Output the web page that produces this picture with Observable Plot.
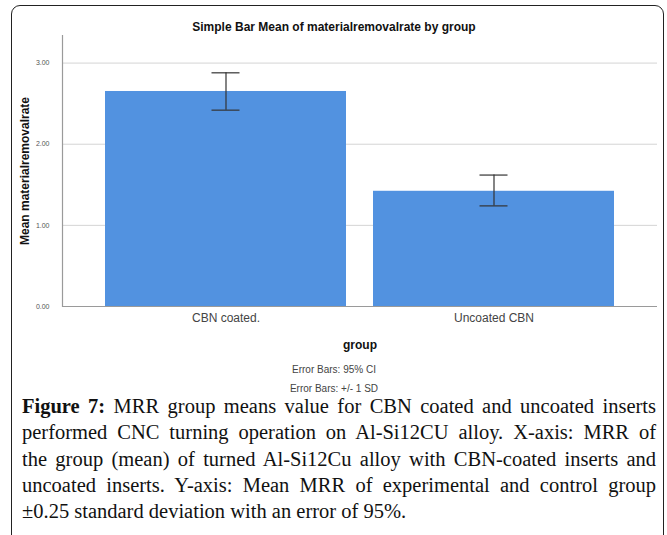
<!DOCTYPE html>
<html>
<head>
<meta charset="utf-8">
<script src="https://cdn.jsdelivr.net/npm/d3@7"></script>
<script src="https://cdn.jsdelivr.net/npm/@observablehq/plot@0.6"></script>
<style>
  html, body { margin: 0; padding: 0; background: #fff; }
  body { width: 667px; height: 535px; overflow: hidden; position: relative; }
  #box { position: absolute; left: 11px; top: 5px; width: 653px; height: 540px;
         border: 1.5px solid #222; border-radius: 9px; box-sizing: border-box; }
  #title { position: absolute; left: 0; width: 668px; top: 20px; text-align: center;
           font: bold 12px "Liberation Sans", Arial, sans-serif; line-height: 14px; color: #111; }
  #chart { position: absolute; left: 0; top: 0; }
  .note { position: absolute; left: 0; width: 668px; text-align: center;
          font: 10px "Liberation Sans", Arial, sans-serif; line-height: 12px; color: #444; }
  #caption { position: absolute; left: 22px; top: 393px; width: 634px;
             font-family: "Liberation Serif", "Times New Roman", serif; font-size: 20.5px;
             line-height: 26.3px; color: #111; }
  #caption .ln { text-align: justify; text-align-last: justify; white-space: nowrap; }
  #caption .ln.last { text-align: left; text-align-last: left; }
  #chart svg g[aria-label="y-axis label"] text,
  #chart svg g[aria-label="x-axis label"] text { font-size: 12px; font-weight: bold; fill: #111; }
</style>
</head>
<body>
<div id="box"></div>
<div id="title"></div>
<div id="chart"></div>
<div class="note" id="note1" style="top:364px"></div>
<div class="note" id="note2" style="top:383px"></div>
<div id="caption"></div>
<script>
const chartTitle = "Simple Bar Mean of materialremovalrate by group";
const groups = ["CBN coated.", "Uncoated CBN"];
const means = [2.65, 1.42];
const ciLow = [2.42, 1.24];
const ciHigh = [2.88, 1.62];
const yTicks = [0, 1, 2, 3];
const xLabel = "group";
const yLabel = "Mean materialremovalrate";
const notes = ["Error Bars: 95% CI", "Error Bars: +/- 1 SD"];
const captionLines = [
  "<b>Figure 7:</b> MRR group means value for CBN coated and uncoated inserts",
  "performed CNC turning operation on Al-Si12CU alloy. X-axis: MRR of",
  "the group (mean) of turned Al-Si12Cu alloy with CBN-coated inserts and",
  "uncoated inserts. Y-axis: Mean MRR of experimental and control group",
  "±0.25 standard deviation with an error of 95%."
];

const data = groups.map((g, i) => ({group: g, mean: means[i], lo: ciLow[i], hi: ciHigh[i]}));

document.getElementById("title").textContent = chartTitle;
document.getElementById("note1").textContent = notes[0];
document.getElementById("note2").textContent = notes[1];
document.getElementById("caption").innerHTML = captionLines
  .map((l, i) => `<div class="ln${i === captionLines.length - 1 ? " last" : ""}">${l}</div>`).join("");

const fmt = d3.format(".2f");
const chart = Plot.plot({
  width: 667,
  height: 360,
  marginLeft: 62,
  marginRight: 10,
  marginTop: 35,
  marginBottom: 54,
  style: {fontFamily: "'Liberation Sans', Arial, sans-serif", background: "transparent", overflow: "visible"},
  x: {domain: groups, paddingInner: 0.1, paddingOuter: 0.16},
  y: {domain: [0, 3.34]},
  marks: [
    Plot.gridY(yTicks.filter(d => d > 0), {stroke: "#d4d4d4", strokeOpacity: 1}),
    Plot.barY(data, {x: "group", y: "mean", fill: "#5292E0"}),
    Plot.ruleY([0], {stroke: "#9a9a9a", strokeWidth: 1.2}),
    Plot.frame({anchor: "left", stroke: "#9a9a9a", strokeWidth: 1.2}),
    Plot.ruleX(data, {x: "group", y1: "lo", y2: "hi", stroke: "#333", strokeWidth: 1.2}),
    Plot.tickY(data, {x: "group", y: "lo", insetLeft: 106.5, insetRight: 106.5, stroke: "#333", strokeWidth: 1.2}),
    Plot.tickY(data, {x: "group", y: "hi", insetLeft: 106.5, insetRight: 106.5, stroke: "#333", strokeWidth: 1.2}),
    Plot.axisY({ticks: yTicks, tickSize: 0, tickPadding: 13, tickFormat: fmt, fontSize: 7, fill: "#555",
                label: yLabel, labelAnchor: "center", labelOffset: 42, labelArrow: "none"}),
    Plot.axisX({tickSize: 0, tickPadding: 7, fontSize: 12, fill: "#444",
                label: xLabel, labelAnchor: "center", labelOffset: 42, labelArrow: "none"})
  ]
});
document.getElementById("chart").appendChild(chart);
</script>
</body>
</html>
